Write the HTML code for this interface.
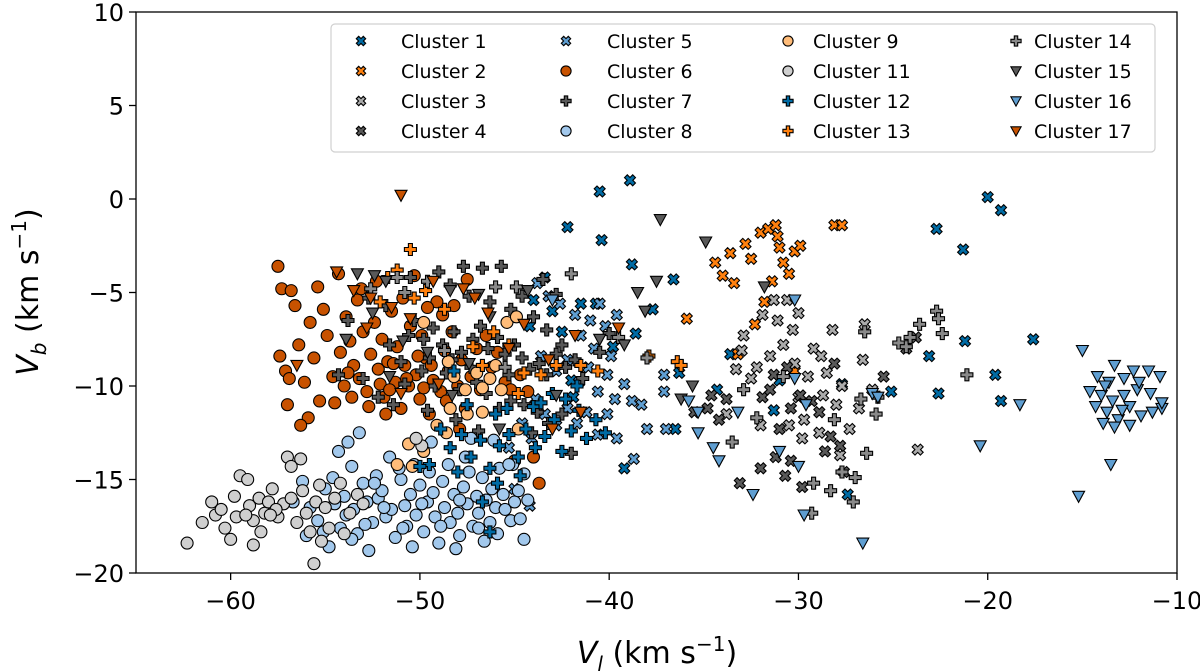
<!DOCTYPE html>
<html><head><meta charset="utf-8"><style>
html,body{margin:0;padding:0;background:#fff;}
svg{display:block;font-family:"DejaVu Sans","Liberation Sans",sans-serif;}
</style></head><body>
<svg id="chart" width="1200" height="671" viewBox="0 0 1200 671" xmlns="http://www.w3.org/2000/svg">
<g id="marks"></g>
<rect x="136" y="12" width="1041" height="561" fill="none" stroke="#000" stroke-width="1.3"/>
<g id="ticks"></g>
<text x="657" y="663" text-anchor="middle" font-size="30"><tspan font-style="italic">V</tspan><tspan font-style="italic" font-size="20" dy="8">l</tspan><tspan dy="-8"> (km s</tspan><tspan font-size="20" dy="-12">−1</tspan><tspan dy="12">)</tspan></text>
<text transform="translate(38,292) rotate(-90)" text-anchor="middle" font-size="30"><tspan font-style="italic">V</tspan><tspan font-style="italic" font-size="20" dy="8">b</tspan><tspan dy="-8"> (km s</tspan><tspan font-size="20" dy="-12">−1</tspan><tspan dy="12">)</tspan></text>
<g id="legend">
<rect x="331" y="24" width="824" height="128" rx="4" fill="#fff" fill-opacity="0.85" stroke="#d0d0d0" stroke-width="1.2"/>
</g>
</svg>
<script>
const xTicks=[-60,-50,-40,-30,-20,-10];
const yTicks=[10,5,0,-5,-10,-15,-20];
const clusterNames=["Cluster 1","Cluster 2","Cluster 3","Cluster 4","Cluster 5","Cluster 6","Cluster 7","Cluster 8","Cluster 9","Cluster 11","Cluster 12","Cluster 13","Cluster 14","Cluster 15","Cluster 16","Cluster 17"];
const clusterColors=["#006BA4","#FF800E","#ABABAB","#595959","#5F9ED1","#C85200","#595959","#A2C8EC","#FFBC79","#CFCFCF","#006BA4","#FF800E","#898989","#595959","#5F9ED1","#C85200"];
const clusterMarkers=["X","X","X","X","X","o","P","o","o","o","P","P","P","v","v","v"];

const c1=[[-40.5,0.4],[-38.9,1],[-42.2,-1.5],[-40.4,-2.2],[-38.8,-3.5],[-36.6,-4.3],[-43.4,-4.2],[-41.5,-5.6],[-40.7,-5.6],[-38.6,-7.2],[-37.7,-5.9],[-36.3,-9.3],[-36.5,-12.3],[-39.2,-14.4],[-34.3,-10.2],[-33.6,-8.3],[-31.3,-11.3],[-31,-9.7],[-27.7,-9.9],[-27.4,-15.8],[-25.1,-10.3],[-22.7,-1.6],[-21.3,-2.7],[-20,0.1],[-19.3,-0.6],[-21.2,-7.6],[-19.6,-9.4],[-19.3,-10.8],[-17.6,-7.5],[-23.1,-8.4],[-41.9,-10.6],[-42.5,-7.1],[-44,-5.4],[-44.2,-6.8],[-43,-6],[-42,-9.7],[-39.8,-7.9],[-22.6,-10.4]];
const c2=[[-35.9,-6.4],[-34.4,-3.4],[-34,-4.1],[-32.8,-2.4],[-32.5,-3.2],[-32,-1.8],[-31.6,-1.6],[-31.2,-1.4],[-31.1,-2],[-31,-2.6],[-30.8,-3.4],[-30.2,-2.8],[-29.9,-2.5],[-30.5,-4],[-31.4,-4.4],[-31.8,-5.5],[-32.3,-6.7],[-33.4,-4.5],[-33.6,-2.9],[-28.1,-1.4],[-27.7,-1.4],[-33.2,-8.3],[-30.2,-9.2]];
const c3=[[-33.3,-9.1],[-32.9,-7.3],[-32.5,-9.6],[-31.3,-5.4],[-31.5,-8.4],[-30.6,-5.4],[-30.3,-7],[-29.5,-9.5],[-29.2,-8],[-28.7,-10.5],[-28.5,-9.3],[-28,-11],[-27.7,-10],[-27.3,-12.3],[-31.1,-6.5],[-30.8,-7.8],[-30.2,-8.8],[-30,-10.6],[-29.7,-11.8],[-28.9,-12.5],[-32,-12.1],[-30.5,-12.1],[-29.8,-12.8],[-28.2,-7],[-26.5,-6.7],[-26.6,-8.6],[-26.1,-10.2],[-23.7,-13.4],[-30,-6.1],[-31.9,-6.2],[-33.8,-11.5],[-33,-8.1],[-32.2,-9],[-28.8,-8.4],[-27.8,-13.7],[-26.8,-11.2]];
const c4=[[-34.6,-10.5],[-33.8,-10.7],[-34.2,-11.8],[-31.9,-10.6],[-31.3,-9.4],[-31,-12.3],[-30.6,-9],[-30.4,-11.2],[-29.9,-10.5],[-29.3,-10.8],[-28.9,-11.4],[-28.6,-13.5],[-28.3,-12.7],[-27.8,-13.2],[-27.6,-14.6],[-30.4,-14],[-31.2,-13.8],[-32,-14.4],[-30.7,-14.8],[-33.1,-15.2],[-29.8,-15.4],[-35.5,-11.4],[-34.8,-11.2],[-25.5,-9.5],[-24.3,-8],[-23.8,-7.4],[-31.5,-10.2],[-28.1,-8.8]];
const c5=[[-43.8,-4.5],[-43.2,-5.2],[-42.6,-5.6],[-41.8,-6.2],[-41,-6.5],[-40.5,-5.6],[-40.2,-6.8],[-39.6,-6.2],[-43.6,-8.4],[-42.8,-9.2],[-42.2,-8.6],[-41.6,-9.8],[-41.1,-9],[-40.6,-10.3],[-40.1,-9.4],[-39.7,-10.7],[-39.2,-9.9],[-38.8,-10.8],[-38.3,-11],[-38,-12.3],[-43.9,-10.7],[-43.4,-11.5],[-42.8,-12.1],[-42.2,-11.2],[-41.7,-12],[-41.2,-11.4],[-40.6,-12.6],[-40.1,-11.5],[-39.6,-12.8],[-44.6,-12],[-44.1,-12.8],[-45.3,-13.3],[-45,-15.5],[-44.2,-16.4],[-37.1,-9.4],[-37.1,-10.3],[-37,-12.3],[-38.7,-13.9],[-41.5,-7.3],[-40.8,-8],[-39.9,-8.4]];
const c6=[[-57.5,-3.6],[-57.3,-4.8],[-56.8,-4.9],[-57,-11],[-57.4,-8.4],[-57.1,-9.2],[-56.6,-5.7],[-56.4,-7.8],[-56.1,-9.8],[-55.8,-6.6],[-55.6,-8.5],[-55.3,-10.8],[-55.1,-5.9],[-54.9,-7.3],[-54.6,-9.5],[-54.3,-4],[-54.2,-8.2],[-54,-10],[-53.9,-6.3],[-53.7,-7.6],[-53.5,-8.9],[-53.3,-5.4],[-53.2,-9.6],[-53,-7.1],[-52.8,-10.3],[-52.6,-8.3],[-52.4,-6.6],[-52.2,-9.1],[-52,-7.5],[-51.9,-10.6],[-51.7,-8.7],[-51.5,-6],[-51.3,-9.8],[-51.2,-7.9],[-51,-11.2],[-50.8,-8.9],[-50.6,-10],[-50.5,-6.8],[-50.3,-4.1],[-50.2,-9.4],[-50,-10.7],[-49.9,-7.3],[-49.7,-8.5],[-49.5,-11.5],[-49.3,-9.7],[-49.1,-5.5],[-48.9,-10.3],[-48.7,-8.1],[-48.5,-9.2],[-48.3,-7.1],[-48,-10],[-47.8,-8.6],[-47.5,-4.3],[-47.3,-9.5],[-47,-8],[-46.8,-10.2],[-46.5,-7.3],[-46.2,-9],[-45.9,-8.2],[-45.5,-9.8],[-45.2,-10.2],[-44.7,-9.4],[-44.3,-10.3],[-45,-14],[-44,-13.8],[-43.7,-15.2],[-51.8,-11.5],[-52.7,-11.1],[-50.9,-5.3],[-49.6,-5.8],[-48.8,-6.2],[-48.2,-5.7],[-53.6,-10.6],[-54.5,-10.9],[-55.9,-11.7],[-56.3,-12.1],[-52.1,-9.9],[-51.6,-10.2],[-50.7,-9.6],[-49.8,-10.1],[-48.6,-10.8],[-47.6,-11.2],[-47.9,-12.3],[-52.3,-4.4],[-53.1,-4.8],[-55.4,-4.7],[-51.4,-8.8],[-50.1,-8.4],[-49.4,-8.9],[-53.8,-9.3],[-56.9,-9.6]];
const c7=[[-50.5,-4.2],[-49,-3.9],[-48.4,-4.6],[-47.7,-3.6],[-46.7,-3.7],[-45.7,-3.6],[-47.4,-5.2],[-46.3,-5.5],[-45.2,-5.9],[-44.6,-5.2],[-44,-6.3],[-43.3,-7],[-42.5,-7.8],[-50.3,-6.5],[-49.8,-7.5],[-49.3,-6.9],[-48.8,-7.8],[-48.2,-7.1],[-47.8,-8.2],[-47.2,-7.5],[-46.8,-6.8],[-46.4,-8],[-45.9,-7.4],[-45.5,-8.3],[-45,-7.8],[-44.6,-8.5],[-44.2,-9.1],[-43.7,-8.8],[-43.3,-9.4],[-42.8,-8.3],[-42.3,-9],[-41.8,-8.6],[-41.4,-9.6],[-40.5,-8.2],[-40,-7.2],[-51.6,-7.8],[-51,-8.7],[-52.2,-10.6],[-53,-9.6],[-50.8,-9.9],[-49.9,-9.2],[-49.2,-10],[-48.6,-9.3],[-47.9,-10.2],[-47.3,-9],[-46.5,-10.4],[-45.8,-11.2],[-45.2,-10.8],[-44.5,-11],[-43.8,-11.4],[-43.2,-12],[-42.5,-11.5],[-53.8,-6.5],[-52.7,-5.3],[-51.8,-5.7],[-54.3,-9.4],[-51.4,-11],[-49.6,-11.3],[-48.1,-11.8],[-46.9,-12.4],[-44.1,-12.5],[-42,-13.6],[-43.5,-4.3],[-42.8,-5.1],[-50.6,-7.3],[-49.5,-8.5],[-48.3,-8.6],[-47,-9.8],[-45.3,-9.4]];
const c8=[[-56.7,-16.2],[-56.2,-15.1],[-55.8,-16.5],[-55.4,-17.2],[-55,-15.5],[-54.6,-14.9],[-54.5,-16.3],[-54.2,-17.6],[-54.3,-13.5],[-54,-15.9],[-53.8,-13],[-53.6,-14.3],[-53.5,-16.6],[-53.3,-17.9],[-53,-15.2],[-52.8,-16.2],[-52.7,-18.8],[-52.5,-17.3],[-52.3,-14.8],[-52.2,-16],[-52,-15.6],[-51.8,-17],[-51.6,-13.8],[-51.5,-16.6],[-51.3,-18.1],[-51,-15],[-50.8,-16.4],[-50.7,-17.5],[-50.5,-15.8],[-50.3,-14.2],[-50.2,-16.9],[-50,-15.3],[-49.8,-17.8],[-49.6,-16.2],[-49.5,-14.6],[-49.3,-15.7],[-49.2,-17],[-49,-18.4],[-48.8,-15.1],[-48.7,-16.5],[-48.5,-14.2],[-48.4,-17.3],[-48.2,-15.8],[-48,-16.8],[-47.9,-18],[-47.7,-15.4],[-47.5,-16.3],[-47.4,-14.6],[-47.2,-17.5],[-47,-15.9],[-46.9,-16.8],[-46.7,-14.9],[-46.5,-16.1],[-46.3,-17.3],[-46.2,-15.5],[-46,-16.5],[-45.8,-14.4],[-45.6,-15.8],[-45.5,-16.6],[-45.2,-17.2],[-45,-16.2],[-44.8,-15.6],[-44.5,-18.2],[-44.5,-14.7],[-53.9,-16.9],[-52.9,-17.4],[-51.9,-16.5],[-50.9,-17.6],[-49.9,-16.3],[-48.9,-17.5],[-47.9,-16.1],[-46.9,-17.6],[-45.9,-17.9],[-55.1,-17.8],[-54.8,-18.6],[-53.2,-12.5],[-50.4,-18.6],[-48.1,-18.7],[-46.6,-18.3],[-45.1,-14.2],[-44.3,-16.1],[-49.4,-13],[-47.3,-12.8],[-46.1,-12.9],[-45.3,-14.2],[-52.4,-15.2],[-51.1,-14.4],[-56,-18],[-53.6,-18.2],[-47.6,-13.8],[-44.7,-17.1]];
const c9=[[-49.8,-6.6],[-48.5,-8.7],[-48.2,-9.5],[-47.6,-10.2],[-47,-9.3],[-46.7,-10.1],[-46.3,-9.6],[-46.7,-11.4],[-47.5,-11.5],[-48.4,-11.2],[-49.1,-12.1],[-45.7,-10.2],[-45.4,-6.6],[-44.9,-6.3],[-46,-8.9],[-49.8,-13.5],[-50.6,-13.1],[-51.2,-14.2],[-50.4,-14.3],[-44.8,-12.3],[-48.6,-12.5]];
const c11=[[-62.3,-18.4],[-61.5,-17.3],[-60.8,-16.9],[-60.3,-17.6],[-60,-18.2],[-59.8,-15.9],[-59.5,-14.8],[-59.1,-15],[-59,-16.4],[-58.8,-17.2],[-58.8,-18.5],[-58.5,-16],[-58.2,-16.8],[-58,-16.2],[-57.8,-15.5],[-57.5,-17],[-57.2,-16.3],[-57,-13.8],[-56.8,-14.3],[-56.8,-16],[-56.5,-17.3],[-56.2,-15.6],[-56,-16.8],[-55.8,-17.8],[-55.6,-19.5],[-55.5,-16.2],[-55.3,-15.3],[-55,-16.5],[-54.8,-17.6],[-54.5,-16],[-54.2,-15.2],[-54,-17.9],[-53.7,-16.8],[-53.3,-15.8],[-59.7,-17],[-61,-16.2],[-60.5,-16.6],[-57.6,-16.6],[-56.3,-13.9],[-55.2,-18.3],[-58.4,-17.8],[-49.9,-13.2],[-50.2,-12.8],[-53,-16.3],[-59.2,-16.9],[-57.9,-16.9]];
const c12=[[-48.9,-12.3],[-48.4,-13.3],[-47.8,-12.6],[-47.3,-13.8],[-46.8,-12.9],[-46.3,-14.4],[-45.8,-13.2],[-45.3,-12.6],[-44.8,-13.8],[-44.4,-12.3],[-43.9,-13.3],[-43.4,-12.7],[-42.9,-11.8],[-42.5,-13.5],[-42,-12.4],[-41.6,-11.3],[-41.2,-12.8],[-40.7,-11.8],[-40.2,-12.5],[-46.7,-16.2],[-46.3,-17.8],[-45.4,-11.2],[-44,-11.1],[-43,-10.4],[-48,-14.6],[-49.5,-14.2],[-48.2,-9.2],[-47.5,-11],[-45.9,-15.2],[-44.7,-14.8],[-43.6,-10.9],[-42.3,-10.7],[-50,-14.3],[-41.7,-10],[-46,-11.5]];
const c13=[[-50.5,-2.7],[-51.7,-4.2],[-51.2,-3.8],[-52.1,-5.5],[-50.3,-5.3],[-49.7,-4.9],[-48.7,-5.9],[-47.2,-7.9],[-46.1,-7.1],[-45.3,-7.8],[-44.5,-9.3],[-42.8,-8.9],[-41.5,-8.9],[-40.6,-9.2],[-37.9,-8.4],[-36.4,-8.7],[-36.2,-8.9],[-43.6,-9.4],[-44.8,-10.4],[-46.7,-8.9]];
const c14=[[-42,-4],[-38,-8.5],[-39.5,-7.4],[-33.5,-13],[-32.2,-11.7],[-30.8,-9.5],[-29.3,-16.8],[-28.3,-15.6],[-27.1,-16.2],[-27.7,-14.6],[-26.4,-13.6],[-25.9,-11.5],[-25.8,-10.6],[-26.5,-7.1],[-24.7,-7.7],[-24.3,-7.9],[-22.7,-6],[-22.4,-7.2],[-22.6,-6.4],[-21.1,-9.4],[-28.1,-11.8],[-26.7,-10.7],[-29.2,-15.2],[-32.9,-10.2],[-23.6,-6.7],[-24.1,-7.4],[-27,-14.9],[-50.8,-5],[-51.2,-4.2],[-52.6,-4.8],[-49.6,-4.4],[-46,-4.7],[-44.9,-4.7],[-45.5,-9],[-48.7,-8.1]];
const c15=[[-53.3,-4],[-52.4,-4.1],[-51.8,-4.4],[-48.4,-4.9],[-46.9,-5.1],[-44.3,-4.9],[-40.5,-7.5],[-39.2,-7.8],[-38.5,-5],[-38.1,-6],[-37.5,-4.4],[-37.3,-1.1],[-34.9,-2.3],[-36.2,-10.7],[-35.6,-10],[-31.8,-4.7],[-53.9,-7.5],[-51.6,-9.5],[-47.4,-8.8],[-49.6,-8.2],[-45.8,-12.3],[-42.8,-10.5],[-48.3,-10.5],[-52.5,-6.1],[-50.9,-7.6],[-46.3,-6.3]];
const c16=[[-15,-8.1],[-14.2,-9.5],[-13.6,-9.8],[-13.3,-8.9],[-12.8,-9.6],[-12.3,-9.2],[-11.5,-9.2],[-10.9,-9.5],[-14.6,-10.3],[-14,-10.5],[-13.4,-10.8],[-12.8,-10.5],[-12.1,-10.2],[-11.4,-10.4],[-14.3,-11.1],[-13.7,-11.4],[-13.1,-11.8],[-12.5,-11.1],[-11.9,-11.6],[-11.3,-11.4],[-10.8,-11.2],[-13.9,-12],[-13.3,-12.2],[-12.5,-12.1],[-12.9,-11.3],[-13.5,-14.2],[-15.2,-15.9],[-13.8,-10],[-12,-9.8],[-10.8,-10.9],[-20.4,-13.2],[-18.3,-11],[-26.6,-18.4],[-29.7,-16.9],[-32.4,-15.8],[-34.2,-14],[-34.5,-13.3],[-35.3,-11.4],[-35.8,-10.8],[-33.2,-11.4],[-31,-13.5],[-29.6,-11],[-30.2,-9.6],[-30.2,-5.4],[-26.1,-10.4],[-25.8,-10.6],[-43,-5.4],[-35.3,-12.5],[-30,-14.3]];
const c17=[[-51,0.2],[-54.4,-3.9],[-53.5,-4.9],[-52.6,-5.3],[-51.5,-5.8],[-50.5,-6.4],[-49.3,-4.4],[-47.7,-4.8],[-46.4,-6.1],[-44.5,-6.7],[-43.2,-8.6],[-41.8,-7.3],[-41.5,-11.4],[-45.3,-8],[-47.1,-5.3],[-49,-9.9],[-51,-10.4],[-56.5,-8.9],[-52.8,-6.9],[-43,-12.3],[-39.5,-6.9]];
const clusterData=[c1,c2,c3,c4,c5,c6,c7,c8,c9,c11,c12,c13,c14,c15,c16,c17];

const X0=-65,X1=-10,Y0=-20,Y1=10,PL=136,PR=1177,PT=12,PB=573;
function sx(v){return PL+(v-X0)/(X1-X0)*(PR-PL);}
function sy(v){return PB-(v-Y0)/(Y1-Y0)*(PB-PT);}
const NS="http://www.w3.org/2000/svg";
function markerEl(type,cx,cy,color,s){
  let el;
  if(type==="o"){el=document.createElementNS(NS,"circle");el.setAttribute("cx",cx);el.setAttribute("cy",cy);el.setAttribute("r",6*s);}
  else{
    let pts;
    if(type==="v"){pts=[[-6,-5],[6,-5],[0,6]];}
    else if(type==="P"){const a=2,b=6;pts=[[-a,-b],[a,-b],[a,-a],[b,-a],[b,a],[a,a],[a,b],[-a,b],[-a,a],[-b,a],[-b,-a],[-a,-a]];}
    else{const w=2.8,e=5.5;pts=[[-e,-e+w],[-e+w,-e],[0,-w],[e-w,-e],[e,-e+w],[w,0],[e,e-w],[e-w,e],[0,w],[-e+w,e],[-e,e-w],[-w,0]];}
    el=document.createElementNS(NS,"polygon");
    el.setAttribute("points",pts.map(p=>(cx+p[0]*s).toFixed(1)+","+(cy+p[1]*s).toFixed(1)).join(" "));
  }
  el.setAttribute("fill",color);el.setAttribute("stroke","#000");el.setAttribute("stroke-width","1.1");
  return el;
}
const marks=document.getElementById("marks");
clusterData.forEach((pts,i)=>{
  const g=document.createElementNS(NS,"g");
  
  
  pts.forEach(p=>{
    const m=markerEl(clusterMarkers[i],sx(p[0]),sy(p[1]),clusterColors[i],1);
    
    
    g.appendChild(m);
  });
  marks.appendChild(g);
});
const ticks=document.getElementById("ticks");
xTicks.forEach(t=>{
  const x=sx(t);
  const l=document.createElementNS(NS,"line");l.setAttribute("x1",x);l.setAttribute("x2",x);l.setAttribute("y1",PB);l.setAttribute("y2",PB+7);l.setAttribute("stroke","#000");l.setAttribute("stroke-width","1.3");
  
  
  ticks.appendChild(l);
  const tx=document.createElementNS(NS,"text");tx.setAttribute("x",x);tx.setAttribute("y",PB+36);tx.setAttribute("text-anchor","middle");tx.setAttribute("font-size","24");
  tx.textContent=(t<0?"−":"")+Math.abs(t);
  
  
  ticks.appendChild(tx);
});
yTicks.forEach(t=>{
  const y=sy(t);
  const l=document.createElementNS(NS,"line");l.setAttribute("x1",PL-7);l.setAttribute("x2",PL);l.setAttribute("y1",y);l.setAttribute("y2",y);l.setAttribute("stroke","#000");l.setAttribute("stroke-width","1.3");
  
  
  ticks.appendChild(l);
  const tx=document.createElementNS(NS,"text");tx.setAttribute("x",PL-12);tx.setAttribute("y",y+9);tx.setAttribute("text-anchor","end");tx.setAttribute("font-size","24");
  tx.textContent=(t<0?"−":"")+Math.abs(t);
  
  
  ticks.appendChild(tx);
});
const legend=document.getElementById("legend");
const colMarkX=[361,566,788,1016],colTextX=[401,607,813,1034],rowY=[41,71,101,131];
clusterNames.forEach((n,i)=>{
  const c=Math.floor(i/4),r=i%4;
  const g=document.createElementNS(NS,"g");
  
  
  g.appendChild(markerEl(clusterMarkers[i],colMarkX[c],rowY[r],clusterColors[i],0.85));
  const t=document.createElementNS(NS,"text");t.setAttribute("x",colTextX[c]);t.setAttribute("y",rowY[r]+7);t.setAttribute("font-size","19");t.textContent=n;
  g.appendChild(t);
  legend.appendChild(g);
});
</script>
</body></html>
